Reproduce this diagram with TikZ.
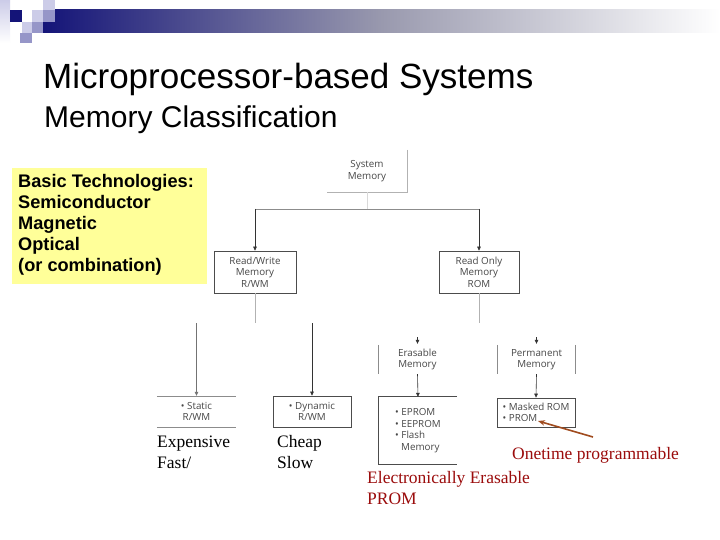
\documentclass[tikz,border=0pt]{standalone}
\usepackage{fontspec}
\setmainfont{Liberation Serif}
\newfontfamily\arialf{Liberation Sans}
\newfontfamily\dfont{Open Sans}
\usetikzlibrary{arrows.meta}
\definecolor{navyA}{RGB}{20,20,120}
\definecolor{lavP}{RGB}{204,204,232}
\definecolor{lavM}{RGB}{150,150,200}
\definecolor{paleY}{RGB}{255,255,153}
\definecolor{darkred}{RGB}{155,12,12}
\definecolor{brownA}{RGB}{160,75,30}
\tikzset{
  dtext/.style={font=\dfont\fontsize{9.8}{11.6}\selectfont, text=black!72, align=center, inner sep=0pt},
  boxd/.style={dtext, draw=black!70, line width=0.7pt},
  boxn/.style={dtext},
  faint/.style={draw=black!30, line width=0.6pt},
  mid/.style={draw=black!45, line width=0.6pt},
  arr/.style={draw=black!80, line width=0.6pt, -{Triangle[length=4pt,width=3.6pt]}},
  serif/.style={font=\fontsize{17.5}{21}\selectfont, inner sep=0pt, anchor=base west, align=left},
}
\begin{document}
\begin{tikzpicture}[x=1pt,y=-1pt]
\useasboundingbox (0,0) rectangle (720,540);
\fill[white] (0,0) rectangle (720,540);
% header decoration
\shade[left color=navyA, right color=white, middle color=black!25!lavP] (43,10) rectangle (720,33);
\shade[top color=lavP, bottom color=white] (0,0) rectangle (10,43);
\fill[navyA] (10,10) rectangle (22,22);
\fill[lavP] (32,10) rectangle (43,22);
\fill[lavM] (43,10) rectangle (55,22);
\fill[lavP] (43,0) rectangle (55,10);
\fill[lavP] (22,22) rectangle (32,33);
\fill[lavM] (32,22) rectangle (43,33);
\fill[lavM] (20,33) rectangle (32,43);
% titles
\node[font=\arialf\fontsize{35}{40}\selectfont, anchor=base west, inner sep=0pt] (t1) at (43,89) {Microprocessor-based Systems};
\node[font=\arialf\fontsize{30}{36}\selectfont, anchor=base west, inner sep=0pt] (t2) at (44,128) {Memory Classification};
% yellow box
\node[fill=paleY, minimum width=195pt, minimum height=116pt, anchor=north west, inner sep=0pt] (techbox) at (12,168) {};
\node[font=\arialf\bfseries\fontsize{18.2}{20.8}\selectfont, anchor=base west, align=left, inner sep=0pt] (tech) at (18,271)
 {Basic Technologies:\\Semiconductor\\Magnetic\\Optical\\(or combination)};
% boxes
\node[boxn, minimum width=80pt, minimum height=42pt] (sys) at (367,171) {System\\Memory};
\node[boxd, minimum width=82pt, minimum height=42pt] (rw) at (255,272) {Read/Write\\Memory\\R/WM};
\node[boxd, minimum width=80pt, minimum height=42pt] (rom) at (479,272) {Read Only\\Memory\\ROM};
\node[boxn, minimum width=79pt, minimum height=31pt] (stat) at (196.5,411.5) {• Static\\R/WM};
\node[boxd, minimum width=78pt, minimum height=31pt] (dyn) at (312,411.5) {• Dynamic\\R/WM};
\node[boxn, minimum width=78pt, minimum height=29pt] (eras) at (417.5,359.5) {Erasable\\Memory};
\node[boxn, minimum width=78pt, minimum height=29pt] (perm) at (536.5,359.5) {Permanent\\Memory};
\node[boxn, minimum width=78pt, minimum height=67pt, align=left] (list) at (418,430.5) {• EPROM\\• EEPROM\\• Flash\\\hspace*{6pt}Memory};
\node[boxd, minimum width=78pt, minimum height=29pt, align=left] (mask) at (536,412.5) {• Masked ROM\\• PROM};
% partial borders
\draw[faint] (sys.north east) -- (sys.south east) -- (sys.south west);
\draw[mid] (stat.north west) -- (stat.north east);
\draw[mid] (stat.south west) -- (stat.south east);
\draw[mid] (eras.north west) -- (eras.south west);
\draw[mid] (perm.north west) -- (perm.south west);
\draw[mid] (perm.north east) -- (perm.south east);
\draw[draw=black!70, line width=0.7pt] (list.north east) -- (list.north west) -- (list.south west) -- (list.south east);
% connectors
\coordinate (hL) at (255,209);
\coordinate (hR) at (479,209);
\coordinate (hM) at (367,209);
\draw[faint, draw=black!15] (sys.south) -- (hM);
\draw[mid] (hL) -- (hR);
\draw[arr] (hL) -- (rw.north);
\draw[arr] (hR) -- (rom.north);
\coordinate (rwj) at (255,323);
\coordinate (romj) at (479,323);
\draw[faint] (rw.south) -- (rwj);
\draw[faint] (rom.south) -- (romj);
\coordinate (sj) at (196.5,323);
\coordinate (dj) at (312,323);
\draw[arr, draw=black!55] (sj) -- (stat.north);
\draw[arr] (dj) -- (dyn.north);
\coordinate (ej) at (417.5,337);
\coordinate (pj) at (536.5,337);
\draw[arr, shorten >=1pt] (ej) -- (eras.north);
\draw[arr, shorten >=1pt] (pj) -- (perm.north);
\draw[arr] (eras.south) -- (list.north);
\draw[arr] (perm.south) -- (mask.north);
% brown pointer
\coordinate (bstart) at (593,437);
\coordinate (btip) at (538,421);
\draw[draw=brownA, line width=1.6pt, -{Stealth[length=7pt,width=5.5pt]}] (bstart) -- (btip);
% annotations
\node[serif] (exp) at (157,468) {Expensive\\Fast/};
\node[serif] (chp) at (277,468) {Cheap\\Slow};
\node[serif, text=darkred] (one) at (512,459) {Onetime programmable};
\node[serif, text=darkred] (eep) at (367,504) {Electronically Erasable\\PROM};
\end{tikzpicture}
\end{document}
